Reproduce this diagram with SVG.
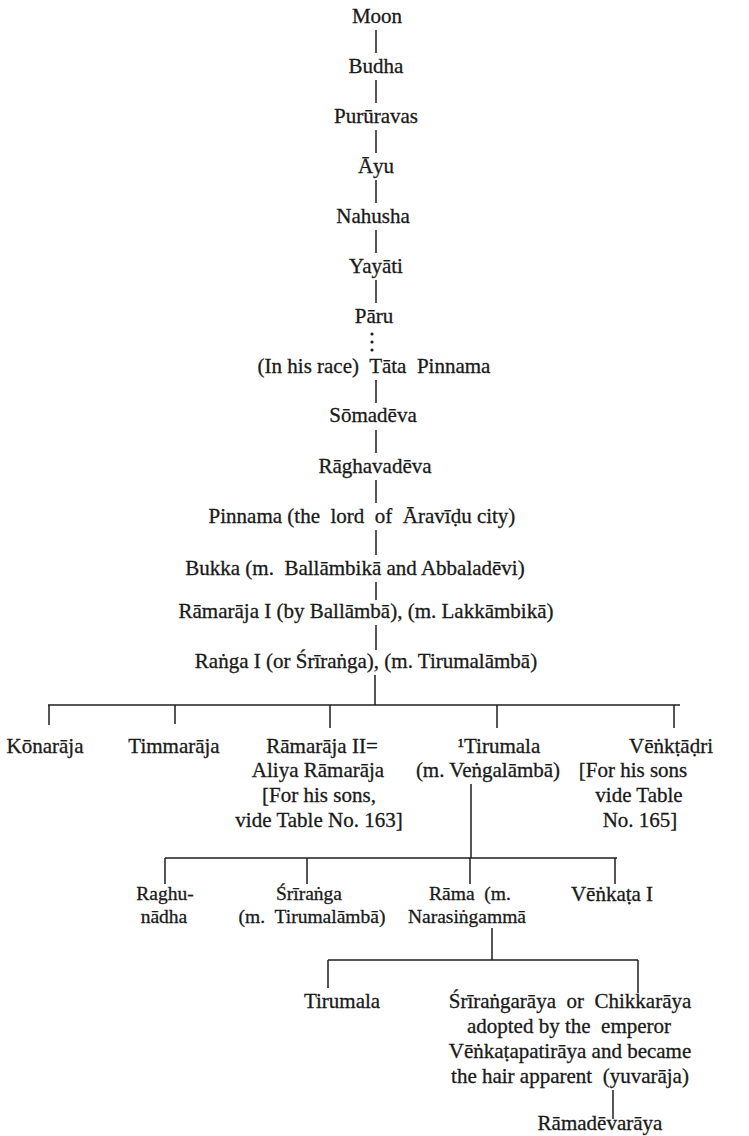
<svg xmlns="http://www.w3.org/2000/svg" width="749" height="1136" viewBox="0 0 749 1136">
<style>
.t{font-family:"Liberation Serif","Times New Roman",serif;font-size:21px;fill:#1a1a1a;stroke:#1a1a1a;stroke-width:0.3;text-anchor:middle;white-space:pre}
.s{font-size:19.5px}
.c line{stroke:#1e1e1e;stroke-width:1.5}
.c circle{fill:#1e1e1e}
</style>
<rect width="749" height="1136" fill="#fff"/>
<g id="connectors" class="c">
<line x1="376" y1="30" x2="376" y2="53"/>
<line x1="376" y1="80" x2="376" y2="103"/>
<line x1="376" y1="130" x2="376" y2="153"/>
<line x1="376" y1="180" x2="376" y2="203"/>
<line x1="376" y1="230" x2="376" y2="253"/>
<line x1="376" y1="280" x2="376" y2="303"/>
<circle cx="372" cy="334" r="1.6"/>
<circle cx="372" cy="342" r="1.6"/>
<circle cx="372" cy="350" r="1.6"/>
<line x1="376" y1="380" x2="376" y2="403"/>
<line x1="376" y1="430" x2="376" y2="453"/>
<line x1="376" y1="480" x2="376" y2="503"/>
<line x1="376" y1="530" x2="376" y2="555"/>
<line x1="376" y1="582" x2="376" y2="600"/>
<line x1="376" y1="625" x2="376" y2="650"/>
<line x1="375" y1="675" x2="375" y2="705"/>
<line x1="48" y1="705" x2="680" y2="705"/>
<line x1="49" y1="705" x2="49" y2="725"/>
<line x1="175" y1="705" x2="175" y2="724"/>
<line x1="330" y1="705" x2="330" y2="728"/>
<line x1="497" y1="705" x2="497" y2="728"/>
<line x1="674" y1="705" x2="674" y2="728"/>
<line x1="471" y1="784" x2="471" y2="858"/>
<line x1="165" y1="858" x2="617" y2="858"/>
<line x1="165" y1="858" x2="165" y2="884"/>
<line x1="307" y1="858" x2="307" y2="884"/>
<line x1="470" y1="858" x2="470" y2="884"/>
<line x1="615" y1="858" x2="615" y2="884"/>
<line x1="492" y1="928" x2="492" y2="960"/>
<line x1="328" y1="960" x2="638" y2="960"/>
<line x1="328" y1="960" x2="328" y2="988"/>
<line x1="638" y1="960" x2="638" y2="993"/>
<line x1="613" y1="1090" x2="613" y2="1119"/>
</g>
<g id="moon"><text class="t" x="377" y="23">Moon</text></g>
<g id="budha"><text class="t" x="376" y="73">Budha</text></g>
<g id="pururavas"><text class="t" x="376" y="123">Purūravas</text></g>
<g id="ayu"><text class="t" x="376" y="173">Āyu</text></g>
<g id="nahusha"><text class="t" x="373" y="223">Nahusha</text></g>
<g id="yayati"><text class="t" x="376" y="273">Yayāti</text></g>
<g id="paru"><text class="t" x="374" y="323">Pāru</text></g>
<g id="tata-pinnama"><text class="t" x="374" y="373">(In his race)  Tāta  Pinnama</text></g>
<g id="somadeva"><text class="t" x="373" y="422">Sōmadēva</text></g>
<g id="raghavadeva"><text class="t" x="375" y="473">Rāghavadēva</text></g>
<g id="pinnama"><text class="t" x="362" y="523">Pinnama (the  lord  of  Āravīḍu city)</text></g>
<g id="bukka"><text class="t" x="355" y="575">Bukka (m.  Ballāmbikā and Abbaladēvi)</text></g>
<g id="ramaraja1"><text class="t" x="366" y="618">Rāmarāja I (by Ballāmbā), (m. Lakkāmbikā)</text></g>
<g id="ranga1"><text class="t" x="366" y="668">Raṅga I (or Śrīraṅga), (m. Tirumalāmbā)</text></g>
<g id="konaraja"><text class="t" x="45" y="753">Kōnarāja</text></g>
<g id="timmaraja"><text class="t" x="174" y="753">Timmarāja</text></g>
<g id="ramaraja2">
<text class="t" x="322" y="753">Rāmarāja II=</text>
<text class="t" x="318" y="777">Aliya Rāmarāja</text>
<text class="t" x="319" y="802">[For his sons,</text>
<text class="t" x="319" y="827">vide Table No. 163]</text>
</g>
<g id="tirumala">
<text class="t" x="499" y="753">¹Tirumala</text>
<text class="t" x="488" y="777">(m. Veṅgalāmbā)</text>
</g>
<g id="venktadri">
<text class="t" x="671" y="753">Vēṅkṭāḍri</text>
<text class="t" x="633" y="777">[For his sons</text>
<text class="t" x="639" y="802">vide Table</text>
<text class="t" x="640" y="827">No. 165]</text>
</g>
<g id="raghunadha">
<text class="t s" x="165" y="900">Raghu-</text>
<text class="t s" x="164" y="923">nādha</text>
</g>
<g id="sriranga">
<text class="t s" x="309" y="900">Śrīraṅga</text>
<text class="t s" x="312" y="923">(m.  Tirumalāmbā)</text>
</g>
<g id="rama">
<text class="t s" x="470" y="900">Rāma  (m.</text>
<text class="t s" x="467" y="923">Narasiṅgammā</text>
</g>
<g id="venkata1"><text class="t" x="612" y="901">Vēṅkaṭa I</text></g>
<g id="tirumala2"><text class="t" x="342" y="1008">Tirumala</text></g>
<g id="srirangaraya">
<text class="t" x="570" y="1008">Śrīraṅgarāya  or  Chikkarāya</text>
<text class="t" x="569" y="1033">adopted by the  emperor</text>
<text class="t" x="570" y="1058">Vēṅkaṭapatirāya and became</text>
<text class="t" x="570" y="1083">the hair apparent  (yuvarāja)</text>
</g>
<g id="ramadevaraya"><text class="t" x="600" y="1130">Rāmadēvarāya</text></g>
</svg>
